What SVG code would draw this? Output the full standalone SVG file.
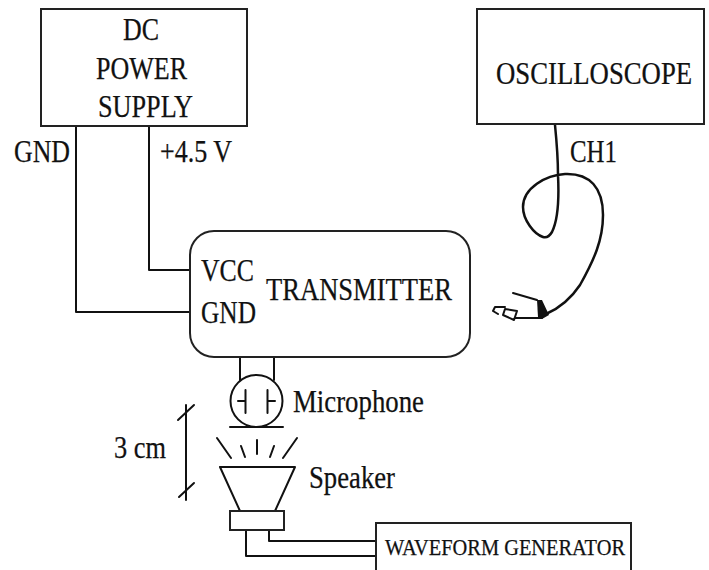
<svg xmlns="http://www.w3.org/2000/svg" width="709" height="570" viewBox="0 0 709 570">
<style>
.l{fill:none;stroke:#111;stroke-width:2;stroke-linecap:round;stroke-linejoin:round}
.b{fill:#fff;stroke:#222;stroke-width:2}
text{font-family:"Liberation Serif","Times New Roman",serif;fill:#111;font-size:31px;stroke:#111;stroke-width:.25}
</style>
<rect width="709" height="570" fill="#fff"/>
<g id="connectors">
<path class="l" d="M76 127V312H190"/>
<path class="l" d="M149 127V270H190"/>
<path class="l" d="M240 357V380M274 357V380"/>
<path class="l" d="M246 531V556H376M269 531V541H376"/>
<path class="l" style="stroke-width:2.5" d="M555 125C557 145 558 160 558 175C559 195 559 218 552 232C549 237 546 238 543 237C534 234 523 220 523 207C523 188 546 175 565 174C590 173 603 188 603 215C603 240 594 260 580 285C570 300 560 308 546 314"/>
<text x="570" y="162" textLength="47" lengthAdjust="spacingAndGlyphs">CH1</text>
</g>
<g id="dc-power-supply">
<rect class="b" x="41" y="9" width="206" height="117"/>
<text x="123" y="40" textLength="36" lengthAdjust="spacingAndGlyphs">DC</text>
<text x="96" y="79" textLength="91" lengthAdjust="spacingAndGlyphs">POWER</text>
<text x="98" y="117" textLength="95" lengthAdjust="spacingAndGlyphs">SUPPLY</text>
</g>
<text x="14" y="162" textLength="56" lengthAdjust="spacingAndGlyphs">GND</text>
<text x="160" y="162" textLength="72" lengthAdjust="spacingAndGlyphs">+4.5 V</text>
<g id="oscilloscope">
<rect class="b" x="477" y="9" width="227" height="115"/>
<text transform="translate(496 84) scale(.863 1)">OSCILLOSCOPE</text>
</g>
<g id="transmitter">
<rect class="b" x="190" y="231" width="280" height="126" rx="24"/>
<text x="201" y="281" textLength="53" lengthAdjust="spacingAndGlyphs">VCC</text>
<text x="201" y="323" textLength="55" lengthAdjust="spacingAndGlyphs">GND</text>
<text x="266" y="300" textLength="186" lengthAdjust="spacingAndGlyphs">TRANSMITTER</text>
</g>
<g id="probe">
<path class="l" d="M513 293L537 300M515 318H542"/>
<path class="l" d="M505 309L517 311L514 320L503 315ZM505 307H495L493 311L498 314"/>
<path d="M537 300L542 300L549 315L542 319L538 317Z" fill="#111"/>
</g>
<g id="microphone">
<circle class="l" cx="256.500" cy="401" r="26"/>
<path class="l" d="M230 427H283M245.500 390V413M267.500 390V413M238 401H245M268 401H275"/>
<text x="293" y="412" textLength="131" lengthAdjust="spacingAndGlyphs">Microphone</text>
</g>
<g id="speaker">
<path class="l" d="M217 438L231 458M241 446L245 457M257 440V454M274 446L270 457M297 438L283 458"/>
<path class="l" d="M220 467H295L275 511H240Z"/>
<rect class="b" x="230" y="511" width="54" height="19"/>
<text x="309" y="488" textLength="86" lengthAdjust="spacingAndGlyphs">Speaker</text>
</g>
<g id="dimension">
<path class="l" d="M186 405V500M178 420L194 405M179 497L194 483"/>
<text x="114" y="458" textLength="52" lengthAdjust="spacingAndGlyphs">3 cm</text>
</g>
<g id="waveform-generator">
<path class="b" d="M376 570V523H631V570"/>
<text x="385" y="555" textLength="240" lengthAdjust="spacingAndGlyphs" style="font-size:24px">WAVEFORM GENERATOR</text>
</g>
</svg>
